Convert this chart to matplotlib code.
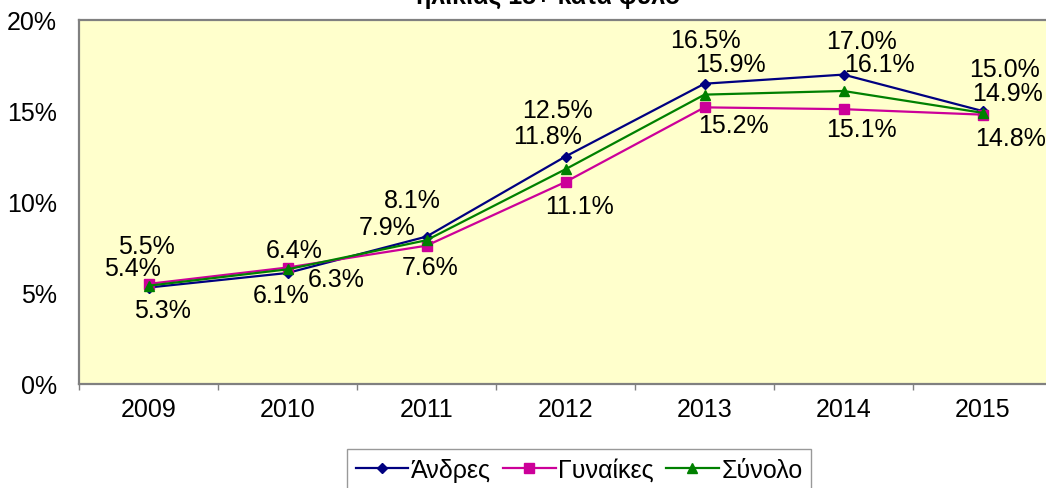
import matplotlib
matplotlib.use("Agg")
import matplotlib.pyplot as plt
import numpy as np

plt.rcParams['font.family'] = ['Liberation Sans', 'DejaVu Sans']

# data
years = ['2009', '2010', '2011', '2012', '2013', '2014', '2015']
andres = [5.3, 6.1, 8.1, 12.5, 16.5, 17.0, 15.0]
gynaikes = [5.5, 6.4, 7.6, 11.1, 15.2, 15.1, 14.8]
synolo = [5.4, 6.3, 7.9, 11.8, 15.9, 16.1, 14.9]
y_ticks = [0, 5, 10, 15, 20]
title = 'ηλικίας 15+ κατά φύλο'

# label offsets in pixels (dx, dy with y going down)
off_andres = [(14, 22), (-6, 22), (-14, -37), (-8, -46), (1, -44), (18, -34), (22, -42)]
off_gynaikes = [(-2, -38), (7, -18), (4, 21), (14, 24), (29, 18), (18, 20), (28, 23)]
off_synolo = [(-16, -18), (49, 10), (-39, -13), (-18, -33), (26, -31), (36, -27), (25, -20)]

FS = 18
W, H = 1046, 489
fig = plt.figure(figsize=(W / 100, H / 100), dpi=100)
ax = fig.add_axes([79 / W, 1 - 385 / H, 973 / W, 364 / H])
ax.set_facecolor('#FFFFCC')

x = np.arange(len(years))
series = [
    ('Άνδρες', andres, '#000080', 'D', 5.5, off_andres),
    ('Γυναίκες', gynaikes, '#CC0099', 's', 7, off_gynaikes),
    ('Σύνολο', synolo, '#008000', '^', 7.5, off_synolo),
]
for name, vals, col, mk, ms, offs in series:
    ax.plot(x, vals, color=col, lw=1.6, marker=mk, markersize=ms,
            markerfacecolor=col, markeredgecolor=col, label=name, zorder=3)
    for xi, v, (dx, dy) in zip(x, vals, offs):
        ax.annotate(f'{v:.1f}%', (xi, v), xytext=(dx * 0.72, -dy * 0.72),
                    textcoords='offset points', ha='center', va='center',
                    fontsize=FS, color='black', zorder=4)

ax.set_xlim(-0.5, len(years) - 0.5)
ax.set_ylim(0, 20)
ax.set_yticks(y_ticks)
ax.set_yticklabels([f'{t}%' for t in y_ticks], fontsize=FS)
ax.set_xticks(x)
ax.set_xticklabels(years, fontsize=FS)
ax.set_xticks(np.arange(-0.5, len(years)), minor=True)
ax.tick_params(axis='x', which='major', length=0, pad=9.5)
ax.tick_params(axis='x', which='minor', length=4.5, width=1, color='#808080', direction='out')
ax.tick_params(axis='y', length=0, pad=16)

for s in ['top', 'left', 'bottom', 'right']:
    ax.spines[s].set_color('#808080')
    ax.spines[s].set_linewidth(1.6)

fig.text(548 / W, 1 - 4 / H, title, ha='center', va='baseline',
         fontsize=FS, fontweight='bold')

leg = fig.legend(loc='upper center', bbox_to_anchor=(579 / W, 1 - 450 / H),
                 ncol=3, fontsize=FS, frameon=True, fancybox=False,
                 handlelength=2.1, handletextpad=0.1, columnspacing=0.5,
                 borderaxespad=0, borderpad=0.35)
leg.get_frame().set_edgecolor('#808080')
leg.get_frame().set_linewidth(1)

fig.savefig('out.png', dpi=100)
